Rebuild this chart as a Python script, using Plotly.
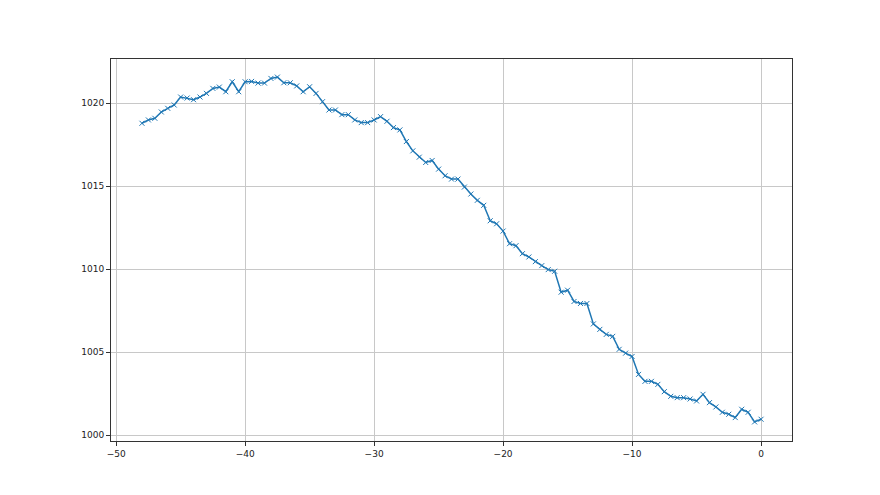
import numpy as np
import plotly.graph_objects as go

# x positions: -48 .. 0 in steps of 0.5
x_vals = np.arange(-48, 0.5, 0.5)

y_vals = [
    1018.78, 1018.98, 1019.08, 1019.46, 1019.68, 1019.88, 1020.36, 1020.30,
    1020.20, 1020.36, 1020.58, 1020.88, 1020.96, 1020.68, 1021.28, 1020.68,
    1021.28, 1021.30, 1021.20, 1021.20, 1021.48, 1021.56, 1021.22, 1021.22,
    1021.03, 1020.68, 1020.98, 1020.58, 1020.08, 1019.58, 1019.58, 1019.30,
    1019.30, 1018.98, 1018.82, 1018.82, 1018.98, 1019.18, 1018.90, 1018.52,
    1018.38, 1017.68, 1017.12, 1016.74, 1016.42, 1016.54, 1016.02, 1015.62,
    1015.42, 1015.42, 1014.94, 1014.52, 1014.14, 1013.84, 1012.91, 1012.73,
    1012.29, 1011.53, 1011.41, 1010.93, 1010.73, 1010.45, 1010.21, 1009.97,
    1009.87, 1008.61, 1008.73, 1008.05, 1007.93, 1007.93, 1006.70, 1006.37,
    1006.07, 1005.95, 1005.17, 1004.94, 1004.74, 1003.66, 1003.24, 1003.24,
    1003.06, 1002.62, 1002.34, 1002.26, 1002.26, 1002.18, 1002.06, 1002.46,
    1001.96, 1001.70, 1001.38, 1001.26, 1001.06, 1001.56, 1001.38, 1000.80,
    1000.96,
]

fig = go.Figure()
fig.add_trace(go.Scatter(
    x=x_vals, y=y_vals, mode="lines+markers",
    line=dict(color="#1f77b4", width=1.5),
    marker=dict(symbol="x-thin", size=5, line=dict(color="#1f77b4", width=1)),
    showlegend=False,
))

axis_style = dict(
    showline=True, mirror=True, linecolor="#333333", linewidth=1,
    showgrid=True, gridcolor="#c8c8c8", gridwidth=0.8, zeroline=False,
    ticks="outside", ticklen=4, tickcolor="#333333",
    tickfont=dict(family="DejaVu Sans", size=9, color="#222222"),
)

# page body adds 8px, so margins are shifted to keep the plot box in place
fig.update_layout(
    width=880, height=495,
    margin=dict(l=103, r=96, t=51, b=62),
    paper_bgcolor="white", plot_bgcolor="white",
)
fig.update_xaxes(range=[-50.4, 2.4], tickvals=[-50, -40, -30, -20, -10, 0], **axis_style)
fig.update_yaxes(range=[999.65, 1022.65], tickvals=[1000, 1005, 1010, 1015, 1020], **axis_style)

fig.write_html("out.html")
